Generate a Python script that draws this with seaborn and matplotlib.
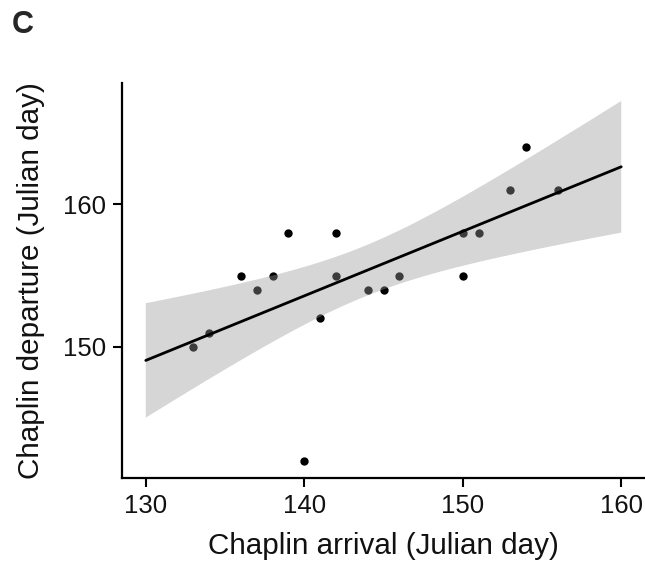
import matplotlib
matplotlib.use("Agg")
import matplotlib.pyplot as plt
import seaborn as sns
import pandas as pd
import numpy as np

arrival = [133, 134, 136, 137, 138, 139, 141, 140, 142, 142, 144, 145, 146, 150, 150, 151, 153, 154, 156]
departure = [150, 151, 155, 154, 155, 158, 152, 142, 158, 155, 154, 154, 155, 158, 155, 158, 161, 164, 161]
x_ticks = [130, 140, 150, 160]
y_ticks = [150, 160]

df = pd.DataFrame({"arrival": arrival, "departure": departure})

sns.set_style("white")
plt.rcParams["font.family"] = ["Liberation Sans", "DejaVu Sans"]

fig = plt.figure(figsize=(6.45, 5.63), dpi=100)
ax = fig.add_axes([122 / 645, 1 - 478 / 563, 1 - 122 / 645, (478 - 83) / 563])
ax.set_xlim(130, 160)
sns.regplot(data=df, x="arrival", y="departure", ax=ax, truncate=False,
            ci=None, color="black",
            scatter_kws=dict(s=36, linewidths=0, color="black", alpha=1, zorder=1),
            line_kws=dict(color="black", linewidth=2, zorder=3))

# analytic 95% confidence band of the linear fit (as in ggplot's geom_smooth)
x = np.asarray(arrival, float)
y = np.asarray(departure, float)
n = len(x)
slope, intercept = np.polyfit(x, y, 1)
resid = y - (slope * x + intercept)
s = np.sqrt(np.sum(resid ** 2) / (n - 2))
sxx = np.sum((x - x.mean()) ** 2)
try:
    from scipy import stats
    tval = stats.t.ppf(0.975, n - 2)
except Exception:
    tval = 2.1098
grid = np.linspace(130, 160, 100)
fit = slope * grid + intercept
se = s * np.sqrt(1 / n + (grid - x.mean()) ** 2 / sxx)
ax.fill_between(grid, fit - tval * se, fit + tval * se, facecolor="#999999",
                alpha=0.4, edgecolor="none", zorder=2)

ax.set_xlim(128.5, 161.5)
ax.set_ylim(140.8, 168.5)
ax.set_xticks(x_ticks)
ax.set_yticks(y_ticks)
ax.set_xlabel("Chaplin arrival (Julian day)", fontsize=21.3, color="#111111", labelpad=10)
ax.set_ylabel("Chaplin departure (Julian day)", fontsize=21.3, color="#111111", labelpad=13)
ax.tick_params(axis="both", labelsize=18.5, colors="black", labelcolor="#111111", length=6.5,
               width=1.5, direction="out", bottom=True, left=True, pad=5)
for side in ["top", "right"]:
    ax.spines[side].set_visible(False)
for side in ["left", "bottom"]:
    ax.spines[side].set_color("black")
    ax.spines[side].set_linewidth(1.6)

fig.text(12 / 645, 1 - 33 / 563, "C", fontsize=22, fontweight="bold", va="baseline")

fig.savefig("out.png", dpi=100)
